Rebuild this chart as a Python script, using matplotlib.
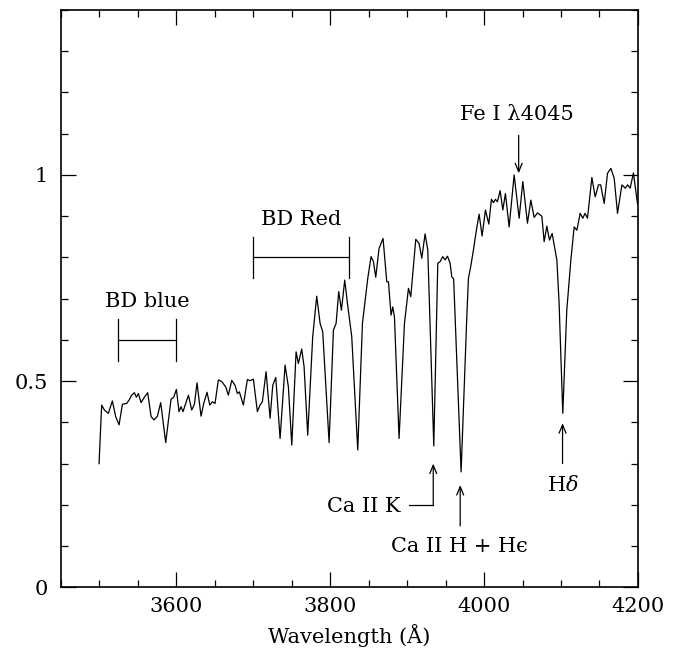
import matplotlib
matplotlib.use("Agg")
import matplotlib.pyplot as plt
from matplotlib.ticker import MultipleLocator, FixedLocator

plt.rcParams['font.family'] = ['DejaVu Serif', 'DejaVu Sans']
plt.rcParams['mathtext.fontset'] = 'dejavuserif'

wavelength = [3499.8, 3503.2, 3506.7, 3511.9, 3517.1, 3521.4, 3525.8, 3530.1, 3535.7, 3538.8,
              3542.2, 3545.7, 3548.3, 3550.9, 3554.4, 3558.7, 3563.0, 3567.4, 3571.2, 3575.6,
              3579.9, 3586.4, 3593.3, 3596.8, 3600.3, 3603.7, 3606.3, 3608.9, 3612.4, 3615.9,
              3620.2, 3623.7, 3627.1, 3632.3, 3635.8, 3640.1, 3643.6, 3647.1, 3650.5, 3654.8,
              3659.2, 3664.4, 3667.8, 3672.2, 3676.5, 3679.5, 3682.1, 3687.3, 3692.5, 3696.0,
              3700.3, 3705.5, 3709.0, 3712.0, 3716.8, 3722.0, 3725.5, 3729.4, 3735.0, 3741.5,
              3745.8, 3750.2, 3755.8, 3758.8, 3763.1, 3766.2, 3770.9, 3777.4, 3782.6, 3787.0,
              3790.4, 3798.7, 3804.3, 3807.8, 3811.2, 3814.7, 3819.0, 3822.5, 3828.1, 3835.9,
              3842.0, 3848.9, 3853.2, 3856.3, 3859.3, 3863.6, 3868.8, 3873.6, 3875.8, 3879.2,
              3881.4, 3883.6, 3889.6, 3896.6, 3901.8, 3904.8, 3911.3, 3915.6, 3919.1, 3923.4,
              3926.9, 3934.7, 3939.9, 3943.0, 3946.4, 3949.4, 3952.5, 3955.9, 3958.1, 3960.5,
              3970.2, 3977.6, 3979.7, 3982.8, 3986.2, 3989.7, 3993.6, 3997.5, 4001.8, 4006.2,
              4009.6, 4012.2, 4014.8, 4017.4, 4020.9, 4024.4, 4027.8, 4032.6, 4039.1, 4045.6,
              4050.4, 4056.4, 4060.8, 4065.1, 4069.4, 4075.1, 4078.1, 4081.6, 4085.0, 4088.5,
              4091.2, 4094.6, 4097.5, 4102.3, 4107.5, 4112.8, 4117.1, 4120.6, 4124.9, 4128.3,
              4131.2, 4134.4, 4140.1, 4144.4, 4148.7, 4151.5, 4156.1, 4160.4, 4164.8, 4169.1,
              4173.4, 4179.1, 4183.4, 4186.6, 4189.9, 4194.1, 4199.3]
flux = [0.300, 0.442, 0.430, 0.422, 0.452, 0.414, 0.394, 0.444, 0.446, 0.454,
        0.466, 0.472, 0.461, 0.470, 0.448, 0.461, 0.472, 0.414, 0.406, 0.415,
        0.448, 0.351, 0.456, 0.461, 0.480, 0.426, 0.438, 0.426, 0.446, 0.466,
        0.430, 0.444, 0.496, 0.415, 0.446, 0.473, 0.442, 0.450, 0.446, 0.503,
        0.499, 0.486, 0.466, 0.502, 0.490, 0.470, 0.474, 0.442, 0.504, 0.501,
        0.505, 0.426, 0.442, 0.450, 0.523, 0.410, 0.490, 0.509, 0.361, 0.539,
        0.486, 0.345, 0.571, 0.543, 0.578, 0.535, 0.369, 0.608, 0.706, 0.640,
        0.620, 0.351, 0.624, 0.640, 0.717, 0.672, 0.745, 0.689, 0.608, 0.333,
        0.640, 0.749, 0.802, 0.790, 0.752, 0.822, 0.846, 0.741, 0.741, 0.660,
        0.680, 0.656, 0.361, 0.640, 0.725, 0.705, 0.844, 0.834, 0.798, 0.857,
        0.818, 0.343, 0.786, 0.790, 0.802, 0.794, 0.803, 0.786, 0.753, 0.748,
        0.280, 0.656, 0.749, 0.779, 0.818, 0.862, 0.905, 0.852, 0.915, 0.881,
        0.941, 0.933, 0.941, 0.935, 0.962, 0.915, 0.955, 0.874, 1.000, 0.895,
        0.984, 0.883, 0.939, 0.897, 0.908, 0.900, 0.838, 0.876, 0.842, 0.858,
        0.830, 0.794, 0.690, 0.422, 0.672, 0.794, 0.874, 0.866, 0.907, 0.895,
        0.907, 0.895, 0.994, 0.947, 0.976, 0.976, 0.931, 1.004, 1.016, 0.992,
        0.907, 0.976, 0.968, 0.976, 0.968, 1.005, 0.931]

x_ticks = [3600, 3800, 4000, 4200]
y_ticks = [0, 0.5, 1]
y_tick_labels = ['0', '0.5', '1']

fig = plt.figure(figsize=(6.8, 6.51), dpi=100)
ax = fig.add_axes([0.0893, 0.0978, 0.8489, 0.8868])
ax.plot(wavelength, flux, color='black', lw=0.9)
ax.set_xlim(3450, 4200)
ax.set_ylim(0, 1.4)

ax.xaxis.set_major_locator(FixedLocator(x_ticks))
ax.xaxis.set_minor_locator(MultipleLocator(50))
ax.yaxis.set_major_locator(FixedLocator(y_ticks))
ax.set_yticklabels(y_tick_labels)
ax.yaxis.set_minor_locator(MultipleLocator(0.1))
ax.tick_params(which='both', direction='in', top=True, right=True, labelsize=15, width=0.9)
ax.tick_params(which='major', length=10.8)
ax.tick_params(which='minor', length=5.3)
ax.tick_params(axis='x', pad=7)
ax.tick_params(axis='y', pad=9)
for s in ax.spines.values():
    s.set_linewidth(1.2)
ax.set_xlabel('Wavelength (Å)', fontsize=15, labelpad=6)

fs = 15
# BD blue bracket
ax.plot([3525, 3600], [0.6, 0.6], color='black', lw=0.9)
ax.plot([3525, 3525], [0.55, 0.65], color='black', lw=0.9)
ax.plot([3600, 3600], [0.55, 0.65], color='black', lw=0.9)
ax.text(3562.5, 0.68, 'BD blue', ha='center', va='baseline', fontsize=fs)
# BD Red bracket
ax.plot([3700, 3825], [0.8, 0.8], color='black', lw=0.9)
ax.plot([3700, 3700], [0.75, 0.85], color='black', lw=0.9)
ax.plot([3825, 3825], [0.75, 0.85], color='black', lw=0.9)
ax.text(3762.5, 0.878, 'BD Red', ha='center', va='baseline', fontsize=fs)

arrow = dict(arrowstyle='->,head_length=0.6,head_width=0.25', color='black', lw=0.9,
             shrinkA=0, shrinkB=0)
# Fe I
ax.annotate('', xy=(4045, 1.004), xytext=(4045, 1.096), arrowprops=arrow)
ax.text(4043, 1.147, 'Fe I λ4045', ha='center', va='center', fontsize=fs)
# Ca II K
ax.plot([3902, 3934], [0.2, 0.2], color='black', lw=0.9)
ax.annotate('', xy=(3934, 0.30), xytext=(3934, 0.2), arrowprops=arrow)
ax.text(3891, 0.197, 'Ca II K', ha='right', va='center', fontsize=fs)
# Ca II H + He
ax.annotate('', xy=(3969, 0.248), xytext=(3969, 0.149), arrowprops=arrow)
ax.text(3968, 0.098, 'Ca II H + H\u03f5', ha='center', va='center', fontsize=fs)
# H delta
ax.annotate('', xy=(4102, 0.398), xytext=(4102, 0.30), arrowprops=arrow)
ax.text(4102, 0.248, 'H$\\delta$', ha='center', va='center', fontsize=fs)

fig.savefig('out.png', dpi=100)
